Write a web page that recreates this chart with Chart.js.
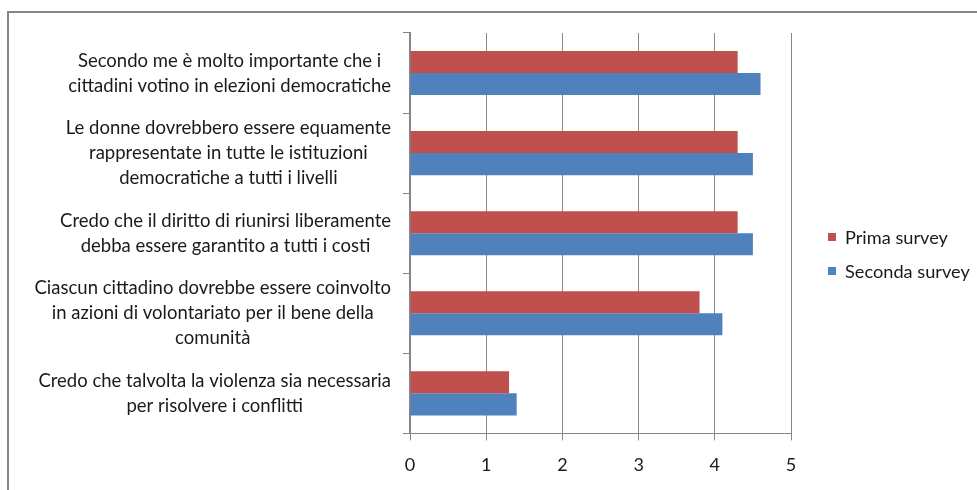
<!DOCTYPE html>
<html>
<head>
<meta charset="utf-8">
<script src="https://cdn.jsdelivr.net/npm/chart.js@4"></script>
<style>
	html, body { margin: 0; padding: 0; background: #fff; overflow: hidden; }
	#wrap { position: relative; width: 977px; height: 490px; }
	#frame { position: absolute; left: 7px; top: 11px; width: 1200px; height: 1200px; border: 2px solid #868686; pointer-events: none; }
	#legend { position: absolute; left: 828px; top: 220px; font: 18.2px Lato, sans-serif; color: #1a1a1a; }
	.item { display: flex; align-items: center; height: 34px; white-space: nowrap; }
	.box { width: 8px; height: 8px; margin-right: 9px; }
</style>
</head>
<body>
<div id="wrap">
	<canvas id="barChart" width="977" height="490"></canvas>
	<div id="frame"></div>
	<div id="legend"></div>
</div>
<script>
const categories = [
	['Secondo me è molto importante che i', 'cittadini votino in elezioni democratiche'],
	['Le donne dovrebbero essere equamente', 'rappresentate in tutte le istituzioni', 'democratiche a tutti i livelli'],
	['Credo che il diritto di riunirsi liberamente', 'debba essere garantito a tutti i costi'],
	['Ciascun cittadino dovrebbe essere coinvolto', 'in azioni di volontariato per il bene della', 'comunità'],
	['Credo che talvolta la violenza sia necessaria', 'per risolvere i conflitti'],
];
const primaSurvey = [4.3, 4.3, 4.3, 3.8, 1.3];
const secondaSurvey = [4.6, 4.5, 4.5, 4.1, 1.4];
const xTicks = [0, 1, 2, 3, 4, 5];

const font = 'Lato, sans-serif';
const gridColor = '#868686';

// multi-line labels: each block right aligned, lines centred inside it
const labelPlugin = {
	id: 'blockLabels',
	afterDraw(chart) {
		const { ctx } = chart;
		const yScale = chart.scales.y;
		const right = yScale.right - 19;
		ctx.save();
		ctx.font = `18.5px ${font}`;
		ctx.fillStyle = '#1a1a1a';
		ctx.textAlign = 'center';
		ctx.textBaseline = 'middle';
		categories.forEach((lines, i) => {
			const yc = yScale.getPixelForTick(i);
			const w = Math.max(...lines.map(l => ctx.measureText(l).width));
			const cx = right - w / 2;
			lines.forEach((line, j) => {
				ctx.fillText(line, cx, yc + (j - (lines.length - 1) / 2) * 25);
			});
		});
		ctx.restore();
	},
};

const myChart = new Chart(document.querySelector('#barChart'), {
	type: 'bar',
	data: {
		labels: categories,
		datasets: [
			{ label: 'Prima survey', data: primaSurvey, backgroundColor: '#C0504D' },
			{ label: 'Seconda survey', data: secondaSurvey, backgroundColor: '#4F81BD' },
		],
	},
	options: {
		indexAxis: 'y',
		responsive: false,
		animation: false,
		categoryPercentage: 0.55,
		barPercentage: 1,
		layout: { padding: { left: 0, right: 186, top: 33, bottom: 0 } },
		plugins: { legend: { display: false }, tooltip: { enabled: false } },
		scales: {
			x: {
				min: 0,
				max: 5,
				afterBuildTicks: scale => { scale.ticks = xTicks.map(v => ({ value: v })); },
				grid: { color: gridColor, tickLength: 7 },
				border: { color: gridColor },
				ticks: { color: '#1a1a1a', font: { family: font, size: 18 }, padding: 14 },
			},
			y: {
				afterFit: scale => { scale.width = 410; },
				grid: { offset: true, drawOnChartArea: false, color: gridColor, tickLength: 7 },
				border: { color: gridColor, width: 2 },
				ticks: { display: false },
			},
		},
	},
	plugins: [labelPlugin],
});

const legend = document.querySelector('#legend');
myChart.data.datasets.forEach(ds => {
	const item = document.createElement('div');
	item.className = 'item';
	item.innerHTML = `<span class="box" style="background:${ds.backgroundColor}"></span>${ds.label}`;
	legend.appendChild(item);
});
</script>
</body>
</html>
